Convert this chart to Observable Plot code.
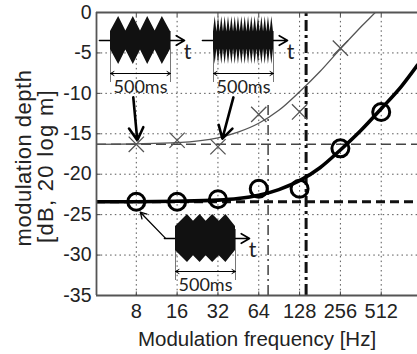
<!DOCTYPE html>
<html><head><meta charset="utf-8">
<script src="https://cdn.jsdelivr.net/npm/d3@7"></script>
<script src="https://cdn.jsdelivr.net/npm/@observablehq/plot@0.6"></script>
<style>
body{margin:0;background:#fff}
#wrap{position:relative;width:417px;height:354px;overflow:hidden;background:#fff}
.icon{position:absolute}
</style>
</head><body><div id="wrap"></div>
<script>
// ---- data ----
const freqs = [8, 16, 32, 64, 128, 256, 512];
const yTicks = [0, -5, -10, -15, -20, -25, -30, -35];
const gridY = [-5, -10, -15, -20, -25, -30];
const crossFreqs = [8, 16, 32, 64, 128, 256];
const crossDepth = [-16.3, -15.8, -16.6, -12.6, -12.3, -4.4];
const circleDepth = [-23.4, -23.4, -23.1, -21.8, -21.8, -16.8, -12.3];
const fitFreqs = [4, 8, 16, 32, 45, 64, 90, 128, 181, 256, 362, 512, 724, 948];
const crossFit = [-16.3, -16.25, -16.1, -15.5, -14.8, -13.7, -12.1, -9.8, -7.3, -4.5, -1.8, 0.8, 4, 7];
const circleFit = [-23.4, -23.4, -23.35, -23.2, -23.0, -22.6, -21.9, -20.8, -19.2, -17.0, -14.6, -11.9, -9.1, -6.5];
const crossRef = -16.3, circleRef = -23.4;
const crossCutoff = 75, circleCutoff = 143, crossCutoffTop = -11.2;
const xMin = 4.07, xMax = 948, yMin = -35, yMax = 0;
const xLabel = "Modulation frequency [Hz]";
const yLabel1 = "modulation depth";
const yLabel2 = "[dB, 20 log m]";
// pointer arrows (frequency, dB)
const pointers = [
  {x1: 7.6, y1: -10.5, x2: 8.14, y2: -15.8},
  {x1: 41.6, y1: -10.5, x2: 34.5, y2: -15.6}
];
const pointerC = [{x1: 13.1, y1: -27.9, x2: 8.56, y2: -24.7}];
// stimulus envelopes (time ms, relative amplitude)
const slowEnv = [[0,0.38],[68,1],[128,0.4],[190,1],[250,0.4],[310,1],[372,0.4],[432,1],[500,0.38]];
const fastPeaks = [14, 42, 69, 97, 125, 153, 181, 208, 236, 264, 292, 319, 347, 375, 403, 431, 458, 486];
const shallowEnv = [[0,0.5],[100,1],[150,0.72],[205,1],[255,0.72],[310,1],[365,0.72],[420,1],[500,0.5]];

const font = "Liberation Sans, Arial, sans-serif";
const crossPts = crossFreqs.map((f, i) => ({f, v: crossDepth[i]}));
const circlePts = freqs.map((f, i) => ({f, v: circleDepth[i]}));
const crossLine = fitFreqs.map((f, i) => ({f, v: crossFit[i]}));
const circleLine = fitFreqs.map((f, i) => ({f, v: circleFit[i]}));

const main = Plot.plot({
  width: 417, height: 354,
  marginLeft: 96, marginRight: 0, marginTop: 12, marginBottom: 59,
  style: {fontFamily: font, background: "transparent", overflow: "visible"},
  x: {type: "log", domain: [xMin, xMax], axis: null},
  y: {domain: [yMin, yMax], axis: null},
  marks: [
    Plot.ruleX(freqs, {y1: yMin, y2: yMax, stroke: "#555", strokeWidth: 1, strokeDasharray: "1.5,3.2"}),
    Plot.ruleY(gridY, {x1: xMin, x2: xMax, stroke: "#555", strokeWidth: 1, strokeDasharray: "1.5,3.2"}),
    Plot.ruleY([crossRef], {x1: xMin, x2: xMax, stroke: "#444", strokeWidth: 1.4, strokeDasharray: "10,5"}),
    Plot.ruleY([circleRef], {x1: xMin, x2: xMax, stroke: "#111", strokeWidth: 3, strokeDasharray: "9,5"}),
    Plot.ruleX([crossCutoff], {y1: yMin, y2: crossCutoffTop, stroke: "#333", strokeWidth: 1.4, strokeDasharray: "10,4,2,4"}),
    Plot.ruleX([circleCutoff], {y1: yMin, y2: yMax, stroke: "#111", strokeWidth: 3, strokeDasharray: "11,4,3,4"}),
    Plot.line(crossLine, {x: "f", y: "v", curve: "monotone-x", stroke: "#555", strokeWidth: 1.3, clip: true}),
    Plot.line(circleLine, {x: "f", y: "v", curve: "monotone-x", stroke: "#000", strokeWidth: 3.6, clip: true}),
    Plot.dot(crossPts, {x: "f", y: "v", symbol: "times", r: 7, stroke: "#555", strokeWidth: 1.3}),
    Plot.dot(circlePts, {x: "f", y: "v", r: 8.5, stroke: "#000", strokeWidth: 3, fill: "none"}),
    Plot.arrow(pointers, {x1: "x1", y1: "y1", x2: "x2", y2: "y2", stroke: "#000", strokeWidth: 2.6, headLength: 10}),
    Plot.arrow(pointerC, {x1: "x1", y1: "y1", x2: "x2", y2: "y2", stroke: "#000", strokeWidth: 1.3, headLength: 8}),
    // frame
    Plot.ruleY([yMax, yMin], {x1: xMin, x2: xMax, stroke: "#555", strokeWidth: 1.8}),
    Plot.ruleX([xMin], {y1: yMin, y2: yMax, stroke: "#555", strokeWidth: 1.8}),
    Plot.link(freqs, {x1: d => d, x2: d => d, y1: yMin, y2: yMin + 0.5, stroke: "#444"}),
    Plot.link(freqs, {x1: d => d, x2: d => d, y1: yMax, y2: yMax - 0.5, stroke: "#444"}),
    Plot.link(gridY, {x1: xMin, x2: xMin * 1.07, y1: d => d, y2: d => d, stroke: "#444"}),
    // tick labels
    Plot.text(freqs, {x: d => d, y: yMin, dy: 16, text: d => String(d), fontSize: 20, fill: "#222", lineAnchor: "middle"}),
    Plot.text(yTicks, {x: xMin, y: d => d, dx: -5, text: d => String(d), textAnchor: "end", fontSize: 19.5, fill: "#222", lineAnchor: "middle"}),
    Plot.text([xLabel], {frameAnchor: "bottom", dy: 44, fontSize: 20.5, fill: "#222", lineAnchor: "middle", textAnchor: "middle"}),
    Plot.text([yLabel1], {frameAnchor: "left", rotate: -90, dx: -73, dy: 4, fontSize: 22, fill: "#222", textAnchor: "middle", lineAnchor: "middle"}),
    Plot.text([yLabel2], {frameAnchor: "left", rotate: -90, dx: -51, dy: 12, fontSize: 22, fill: "#222", textAnchor: "middle", lineAnchor: "middle"})
  ]
});
d3.select(main).selectAll("text").filter(function() { return this.textContent === yLabel1; }).style("letter-spacing", "0.5px");
d3.select(main).selectAll("text").filter(function() { return this.textContent === yLabel2; }).style("letter-spacing", "1.3px");
document.getElementById("wrap").appendChild(main);

// ---- stimulus icons ----
function envArea(env) {
  return env.map(([t, a]) => ({t, lo: -a, hi: a}));
}
function fastEnv(peaks) {
  const half = 13.9;
  const out = [];
  peaks.forEach(p => { out.push([p - half, 0.35]); out.push([p, 1]); });
  out.push([500, 0.35]);
  return out;
}
function icon(env, cx, cy) {
  const W = 110, H = 100, ox = 14, oy = 32;
  const el = Plot.plot({
    width: W, height: H, margin: 0,
    style: {background: "transparent", overflow: "visible", fontFamily: "Lato, sans-serif"},
    x: {domain: [-ox / 0.12, (W - ox) / 0.12], range: [0, W]},
    y: {domain: [-1, 1], range: [oy + 24, oy - 24]},
    axis: null,
    marks: [
      Plot.ruleX([0, 500], {y1: 0.375, y2: -1.75, stroke: "#777", strokeWidth: 1}),
      Plot.arrow([{a: 250, b: 0}, {a: 250, b: 500}], {x1: "a", x2: "b", y1: -1.375, y2: -1.375, stroke: "#000", strokeWidth: 1, headLength: 6}),
      Plot.arrow([{a: -92, b: 617}], {x1: "a", x2: "b", y1: 0, y2: 0, stroke: "#000", strokeWidth: 1.6, headLength: 9}),
      Plot.areaY(envArea(env), {x: "t", y1: "lo", y2: "hi", fill: "#111"}),
      Plot.text(["500ms"], {x: 250, y: -1.96, fontSize: 18, fill: "#222"}),
      Plot.text(["t"], {x: 642, y: -0.5, fontSize: 21, fill: "#222"})
    ]
  });
  const d = document.createElement("div");
  d.className = "icon";
  d.style.left = (cx - ox) + "px";
  d.style.top = (cy - oy) + "px";
  d.appendChild(el);
  document.getElementById("wrap").appendChild(d);
}
icon(slowEnv, 110, 40);
icon(fastEnv(fastPeaks), 213, 40);
icon(shallowEnv, 175, 238);
</script></body></html>
